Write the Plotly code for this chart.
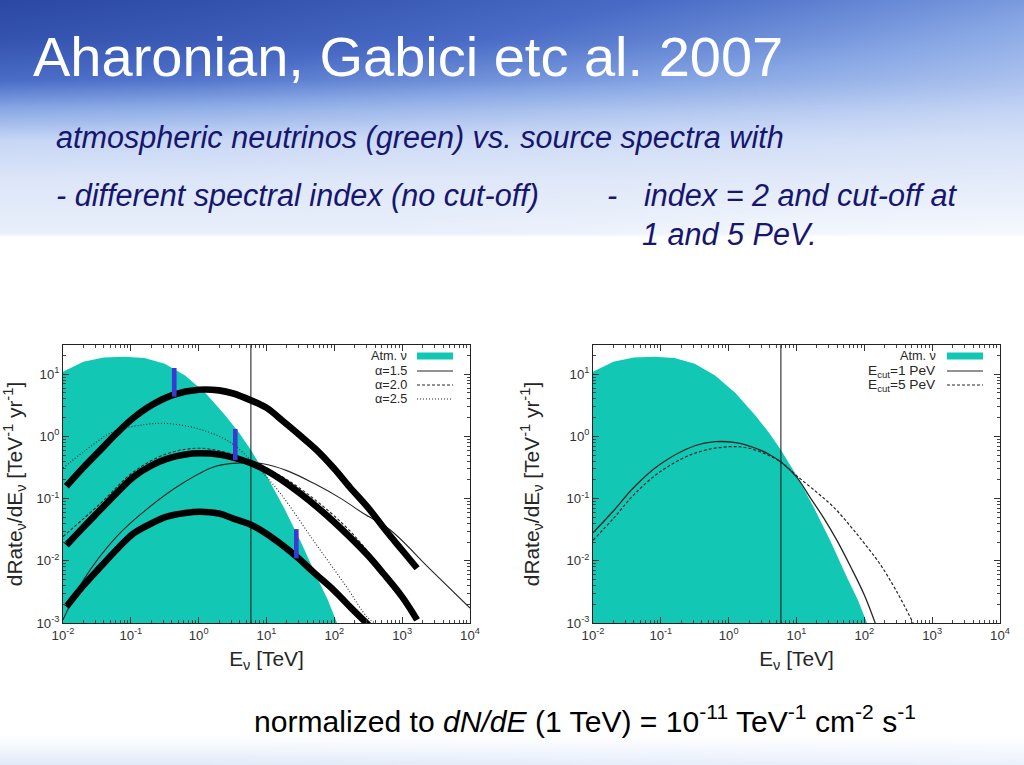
import plotly.graph_objects as go

W, H = 1024, 765

# ---------------- data (log10 E [TeV], log10 dRate/dE) ----------------
atm_logE = [-2.0, -1.7, -1.4, -1.1, -0.8, -0.5, -0.2, 0.1, 0.4, 0.6, 0.77, 1.0, 1.25, 1.5, 1.75, 1.9, 2.04]
atm_logY = [1.04, 1.20, 1.27, 1.28, 1.26, 1.17, 0.98, 0.70, 0.33, 0.05, -0.22, -0.63, -1.13, -1.68, -2.28, -2.62, -3.0]

# left panel: spectral index, no cut-off
a15_logE = [-2.0, -1.7, -1.21, -0.72, -0.25, 0.22, 0.56, 0.95, 1.3, 1.69, 2.1, 2.43, 2.82, 3.4, 4.0]
a15_logY = [-2.95, -2.31, -1.61, -1.13, -0.76, -0.49, -0.43, -0.44, -0.55, -0.75, -1.0, -1.24, -1.50, -2.12, -2.76]
a20_logE = [-2.0, -1.45, -0.96, -0.47, 0.02, 0.54, 0.77, 1.25, 1.74, 2.23, 2.72, 3.22]
a20_logY = [-1.61, -1.08, -0.57, -0.28, -0.19, -0.30, -0.40, -0.66, -1.04, -1.52, -2.16, -2.9]
a25_logE = [-2.0, -1.7, -1.26, -0.8, -0.5, -0.03, 0.46, 0.86, 1.2, 1.69, 2.18, 2.48, 2.6]
a25_logY = [-0.51, -0.25, 0.075, 0.19, 0.21, 0.13, -0.09, -0.49, -0.91, -1.67, -2.42, -2.90, -3.0]

# thick hand-drawn overlays on the left panel
hi_logE = [-1.95, -1.7, -1.45, -1.2, -0.96, -0.7, -0.37, 0.0, 0.3, 0.51, 0.77, 1.0, 1.25, 1.5, 1.74, 2.0, 2.23, 2.5, 2.75, 3.0, 3.22]
hi_logY = [-0.80, -0.50, -0.22, 0.06, 0.30, 0.50, 0.67, 0.75, 0.74, 0.69, 0.58, 0.46, 0.24, 0.01, -0.22, -0.52, -0.82, -1.15, -1.50, -1.83, -2.12]
mid_logE = [-1.95, -1.7, -1.45, -1.2, -0.96, -0.7, -0.47, -0.2, 0.02, 0.3, 0.54, 0.77, 1.0, 1.25, 1.5, 1.74, 2.0, 2.23, 2.5, 2.72, 3.0, 3.22]
mid_logY = [-1.75, -1.46, -1.18, -0.90, -0.65, -0.47, -0.36, -0.29, -0.27, -0.29, -0.35, -0.43, -0.55, -0.72, -0.92, -1.13, -1.38, -1.62, -1.92, -2.2, -2.58, -2.95]
lo_logE = [-1.95, -1.7, -1.45, -1.2, -0.96, -0.7, -0.47, -0.2, 0.02, 0.3, 0.51, 0.77, 1.1, 1.44, 1.7, 1.99, 2.25, 2.53]
lo_logY = [-2.74, -2.40, -2.10, -1.81, -1.56, -1.40, -1.29, -1.23, -1.21, -1.24, -1.32, -1.42, -1.64, -1.93, -2.19, -2.47, -2.76, -3.06]

# blue vertical markers
mark_logE = [-0.36, 0.54, 1.44]
mark_top = [1.10, 0.12, -1.49]
mark_bot = [0.64, -0.38, -1.96]

# right panel: index 2 with cut-off
c1_logE = [-2.0, -1.7, -1.4, -1.0, -0.5, -0.2, 0.1, 0.4, 0.6, 0.78, 1.0, 1.2, 1.4, 1.6, 1.8, 2.0, 2.16]
c1_logY = [-1.55, -1.20, -0.82, -0.44, -0.15, -0.085, -0.10, -0.19, -0.29, -0.42, -0.65, -0.98, -1.31, -1.68, -2.1, -2.55, -3.0]
c5_logE = [-2.0, -1.7, -1.4, -1.0, -0.5, 0.0, 0.3, 0.6, 0.78, 1.0, 1.3, 1.55, 1.8, 2.0, 2.23, 2.48, 2.72]
c5_logY = [-1.67, -1.32, -0.94, -0.56, -0.27, -0.165, -0.19, -0.31, -0.42, -0.63, -0.9, -1.14, -1.45, -1.72, -2.05, -2.50, -3.0]

vline_logE = 0.77
x_ticks = [-2, -1, 0, 1, 2, 3, 4]
y_ticks = [-3, -2, -1, 0, 1]

# ---------------- styling ----------------
TEAL = "#12c8b4"
INK = "#262626"
NAVY = "#16166e"
FONT = "Liberation Sans, Arial, sans-serif"


def lin(v):
    return [10 ** a for a in v]


def px(x):
    return x / W


def py(y):
    return 1 - y / H


fig = go.Figure()

# background gradient (slide design), coordinates in pixels
bg_x = [0, 200, 400, 600, 800, 1024]
bg_y = [0, 40, 80, 110, 140, 180, 233, 237, 735, 765]
bg_z = [
    [0.00, 0.06, 0.13, 0.22, 0.32, 0.45],
    [0.08, 0.13, 0.21, 0.31, 0.42, 0.55],
    [0.25, 0.30, 0.38, 0.46, 0.55, 0.65],
    [0.52, 0.56, 0.61, 0.66, 0.70, 0.75],
    [0.76, 0.77, 0.79, 0.80, 0.81, 0.83],
    [0.86, 0.86, 0.87, 0.87, 0.88, 0.89],
    [0.91, 0.91, 0.91, 0.93, 0.95, 0.96],
    [1, 1, 1, 1, 1, 1],
    [1, 1, 1, 1, 1, 1],
    [0.88, 0.88, 0.89, 0.90, 0.91, 0.92],
]
fig.add_trace(go.Heatmap(
    x=bg_x, y=bg_y, z=bg_z, zsmooth="best", showscale=False, hoverinfo="skip",
    zmin=0, zmax=1,
    colorscale=[[0, "#2a48a4"], [0.25, "#4a6cc6"], [0.5, "#86a6e4"], [0.75, "#c4d4f4"],
                [0.9, "#e6edfa"], [1, "#ffffff"]],
    xaxis="x", yaxis="y"))


def panel_fill(xa, ya):
    fig.add_trace(go.Scatter(
        x=lin(atm_logE) + [10 ** atm_logE[-1], 10 ** atm_logE[0]],
        y=lin(atm_logY) + [10 ** -3.2, 10 ** -3.2],
        fill="toself", fillcolor=TEAL, line=dict(width=0), mode="lines",
        showlegend=False, hoverinfo="skip", xaxis=xa, yaxis=ya))


def curve(xs, ys, xa, ya, width=1.1, dash="solid", color=INK):
    fig.add_trace(go.Scatter(
        x=lin(xs), y=lin(ys), mode="lines",
        line=dict(color=color, width=width, dash=dash, shape="spline", smoothing=1.0),
        showlegend=False, xaxis=xa, yaxis=ya))


def vline(xa, ya):
    fig.add_trace(go.Scatter(
        x=[10 ** vline_logE, 10 ** vline_logE], y=[1e-3, 10 ** 1.5], mode="lines",
        line=dict(color="#111111", width=1), showlegend=False, hoverinfo="skip",
        xaxis=xa, yaxis=ya))


# left panel
panel_fill("x2", "y2")
vline("x2", "y2")
curve(a15_logE, a15_logY, "x2", "y2", dash="solid")
curve(a20_logE, a20_logY, "x2", "y2", dash="3px,2px")
curve(a25_logE, a25_logY, "x2", "y2", dash="1px,2px")
curve(hi_logE, hi_logY, "x2", "y2", width=6.6, color="#000000")
curve(mid_logE, mid_logY, "x2", "y2", width=6.6, color="#000000")
curve(lo_logE, lo_logY, "x2", "y2", width=6.6, color="#000000")
mx, my = [], []
for e, t, b in zip(mark_logE, mark_top, mark_bot):
    mx += [10 ** e, 10 ** e, None]
    my += [10 ** t, 10 ** b, None]
fig.add_trace(go.Scatter(x=mx, y=my, mode="lines", line=dict(color="#3a3ad2", width=4.6),
                         showlegend=False, xaxis="x2", yaxis="y2"))

# right panel
panel_fill("x3", "y3")
vline("x3", "y3")
curve(c1_logE, c1_logY, "x3", "y3", width=1.3, dash="solid")
curve(c5_logE, c5_logY, "x3", "y3", width=1.2, dash="3px,2px")

# axes
tick_text_x = ["10<sup>%d</sup>" % t for t in x_ticks]
tick_text_y = ["10<sup>%d</sup>" % t for t in y_ticks]
minor_x = [k * 10.0 ** n for n in range(-2, 4) for k in range(2, 10)]
minor_y = [k * 10.0 ** n for n in range(-3, 2) for k in range(2, 10)]

xtitle = dict(text="E<sub>ν</sub> [TeV]", font=dict(size=20.9, color=INK, family=FONT),
              standoff=9)
ytitle = dict(text="dRate<sub>ν</sub>/dE<sub>ν</sub> [TeV<sup>-1</sup> yr<sup>-1</sup>]",
              font=dict(size=20.9, color=INK, family=FONT), standoff=21)


def xaxis(dom, anchor):
    return dict(domain=dom, anchor=anchor, type="log", range=[-2, 4], automargin=False,
                tickmode="array", tickvals=[10 ** t for t in x_ticks], ticktext=tick_text_x,
                ticks="inside", ticklen=6, tickcolor="#333", showline=True, linecolor="#222",
                linewidth=1, mirror="allticks", showgrid=False, zeroline=False,
                tickfont=dict(size=13.2, color="#333", family=FONT),
                minor=dict(tickmode="array", tickvals=minor_x, ticks="inside", ticklen=3,
                           tickcolor="#444", showgrid=False),
                title=xtitle)


def yaxis(dom, anchor):
    return dict(domain=dom, anchor=anchor, type="log", range=[-3, 1.47], automargin=False,
                tickmode="array", tickvals=[10 ** t for t in y_ticks], ticktext=tick_text_y,
                ticks="inside", ticklen=6, tickcolor="#333", showline=True, linecolor="#222",
                linewidth=1, mirror="allticks", showgrid=False, zeroline=False,
                tickfont=dict(size=13.2, color="#333", family=FONT),
                minor=dict(tickmode="array", tickvals=minor_y, ticks="inside", ticklen=3,
                           tickcolor="#444", showgrid=False),
                title=ytitle)


ydom = [py(623), py(345)]
fig.update_layout(
    width=W, height=H, autosize=False, margin=dict(l=0, r=0, t=0, b=0, autoexpand=False),
    paper_bgcolor="white", plot_bgcolor="white", showlegend=False,
    xaxis=dict(domain=[0, 1], range=[0, W], visible=False, fixedrange=True, automargin=False),
    yaxis=dict(domain=[0, 1], range=[H, 0], visible=False, fixedrange=True, automargin=False),
    xaxis2=xaxis([px(63), px(470)], "y2"),
    yaxis2=yaxis(ydom, "x2"),
    xaxis3=xaxis([px(593), px(1000)], "y3"),
    yaxis3=yaxis(ydom, "x3"),
)

ann = []
shapes = []


def text(x, y, s, size, color, anchor="left", italic=False):
    ann.append(dict(x=px(x), y=py(y), xref="paper", yref="paper", text=s, showarrow=False,
                    xanchor=anchor, yanchor="middle",
                    font=dict(size=size, color=color, family=FONT,
                              style="italic" if italic else "normal")))


# slide texts
text(31, 57, "Aharonian, Gabici etc al. 2007", 56, "white")
text(54, 137, "atmospheric neutrinos (green) vs. source spectra with", 30.6, NAVY, italic=True)
text(54, 195.5, "- different spectral index (no cut-off)", 30.6, NAVY, italic=True)
text(605, 195.5, "-", 30.6, NAVY, italic=True)
text(642, 195.5, "index = 2 and cut-off at", 30.6, NAVY, italic=True)
text(640, 233.5, "1 and 5 PeV.", 30.6, NAVY, italic=True)
text(252, 719, "normalized to <i>dN/dE</i> (1 TeV) = 10<sup>-11</sup> TeV<sup>-1</sup> cm<sup>-2</sup> s<sup>-1</sup>",
     30.1, "#000000")


# in-plot keys (gnuplot style: label then sample)
def key(xr, x0, x1, y, label, kind, size=12.7):
    text(xr, y, label, size, INK, anchor="right")
    if kind == "fill":
        shapes.append(dict(type="rect", xref="paper", yref="paper", x0=px(x0), x1=px(x1),
                           y0=py(y + 3.5), y1=py(y - 3.5), fillcolor=TEAL, line=dict(width=0)))
    else:
        shapes.append(dict(type="line", xref="paper", yref="paper", x0=px(x0), x1=px(x1),
                           y0=py(y), y1=py(y), line=dict(color=INK, width=1.2, dash=kind)))


key(409, 417, 453, 356, "Atm. ν", "fill")
key(409, 417, 453, 371, "α=1.5", "solid")
key(409, 417, 453, 385, "α=2.0", "3px,2px")
key(409, 417, 453, 399, "α=2.5", "1px,2px")
key(938, 947, 983, 356, "Atm. ν", "fill")
key(938, 947, 983, 371, "E<sub>cut</sub>=1 PeV", "solid", 13.7)
key(938, 947, 983, 385, "E<sub>cut</sub>=5 PeV", "3px,2px", 13.7)

fig.update_layout(annotations=ann, shapes=shapes)

fig.write_html(
    "out.html",
    config={"displayModeBar": False},
    post_script="document.body.style.margin='0';",
)
